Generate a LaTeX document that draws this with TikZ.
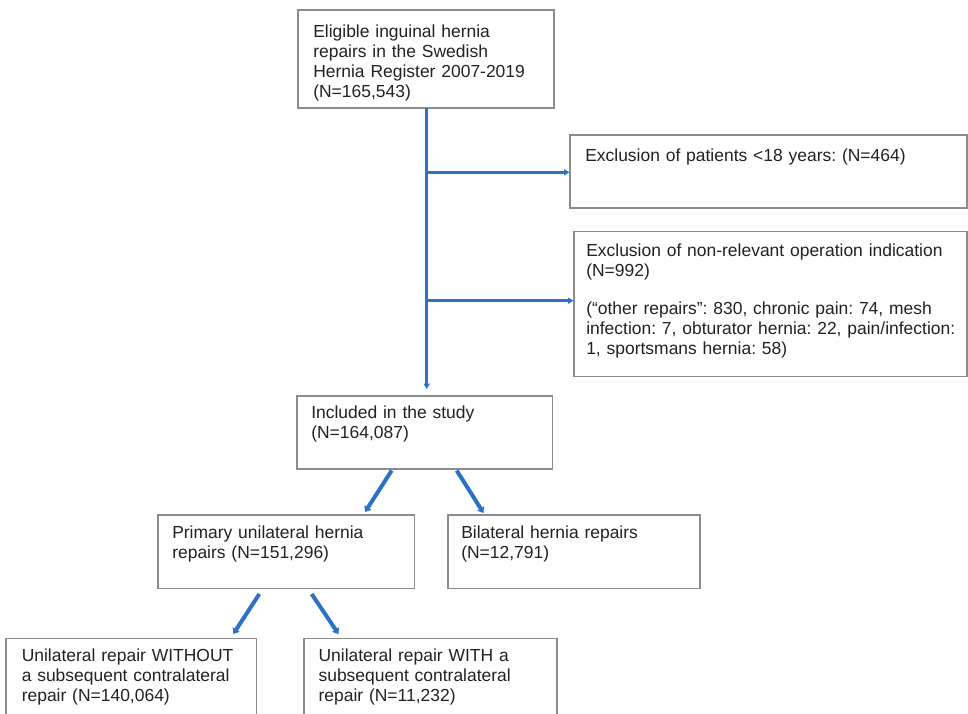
\documentclass[tikz,border=0pt]{standalone}
\usepackage{fontspec}
\setmainfont{Liberation Sans}
\usetikzlibrary{arrows.meta,fit}
\definecolor{boxgray}{HTML}{8C8C8C}
\definecolor{flowblue}{HTML}{2E72C6}
\definecolor{txtc}{HTML}{222222}
\frenchspacing
\begin{document}
\begin{tikzpicture}[x=0.75pt,y=-0.75pt,
  box/.style={draw=boxgray,line width=0.9pt,inner sep=0pt,fill=white},
  lbl/.style={anchor=base west,inner sep=0pt,text=txtc,text width=320pt,align=left,
    font=\fontsize{13.1pt}{15pt}\selectfont},
  flow/.style={draw=flowblue,line width=2pt},
  tipa/.style={-{Triangle[length=4pt,width=4.5pt]}},
  diag/.style={draw=flowblue,line width=3pt,-{Triangle[length=4pt,width=6pt]}}]
\clip (0,0) rectangle (968,714);
\useasboundingbox (0,0) rectangle (968,714);
\fill[white] (0,0) rectangle (968,714);

% boxes
\node[box,fit={(298,10) (554,108)}] (top) {};
\node[box,fit={(570,135) (967,208)}] (ex1) {};
\node[box,fit={(574,231.7) (967,376.7)}] (ex2) {};
\node[box,fit={(297,396) (552.7,469)}] (incl) {};
\node[box,fit={(158,515) (414.5,588.3)}] (prim) {};
\node[box,fit={(448,515) (700,588.3)}] (bilat) {};
\node[box,fit={(6,638.3) (256.7,740)}] (without) {};
\node[box,fit={(304,638.3) (557,740)}] (with) {};

% texts
\node[lbl] (toptext) at (313,37.7) {Eligible inguinal hernia\\repairs in the Swedish\\Hernia Register 2007-2019\\(N=165,543)};
\node[lbl] (ex1text) at (585,161.7) {Exclusion of patients <18 years: (N=464)};
\node[lbl] (ex2text) at (586,256.7) {Exclusion of non-relevant operation indication\\(N=992)\\[13.5pt](“other repairs”: 830, chronic pain: 74, mesh\\infection: 7, obturator hernia: 22, pain/infection:\\1, sportsmans hernia: 58)};
\node[lbl] (incltext) at (311,418) {Included in the study\\(N=164,087)};
\node[lbl] (primtext) at (172,538) {Primary unilateral hernia\\repairs (N=151,296)};
\node[lbl] (bilattext) at (461,538) {Bilateral hernia repairs\\(N=12,791)};
\node[lbl] (withouttext) at (21.5,661.7) {Unilateral repair WITHOUT\\a subsequent contralateral\\repair (N=140,064)};
\node[lbl] (withtext) at (318.3,661.7) {Unilateral repair WITH a\\subsequent contralateral\\repair (N=11,232)};

% main vertical flow
\coordinate (vtop) at (426.7,108);
\coordinate (vbot) at (426.7,389);
\coordinate (b1) at (426.7,172.3);
\coordinate (b2) at (426.7,300.7);
\draw[flow,line width=2.6pt,tipa] (vtop) -- (vbot);
\draw[flow,tipa] (b1) -- (b1 -| ex1.west);
\draw[flow,tipa] (b2) -- (b2 -| ex2.west);

% diagonal arrows
\coordinate (d1s) at (391.7,470.5);
\coordinate (d1e) at (365,512);
\coordinate (d2s) at (456.7,470.5);
\coordinate (d2e) at (483.5,513);
\coordinate (d3s) at (259.3,594);
\coordinate (d3e) at (233.3,634);
\coordinate (d4s) at (311.7,594);
\coordinate (d4e) at (338.5,634);
\draw[diag] (d1s) -- (d1e);
\draw[diag] (d2s) -- (d2e);
\draw[diag] (d3s) -- (d3e);
\draw[diag] (d4s) -- (d4e);
\end{tikzpicture}
\end{document}
